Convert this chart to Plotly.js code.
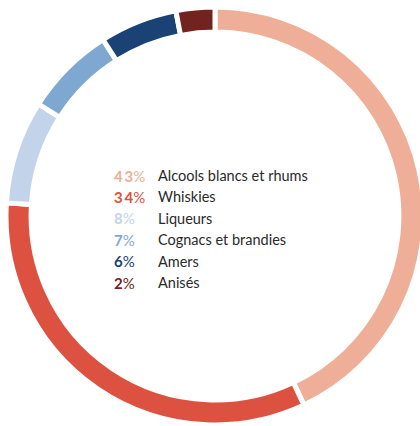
<!DOCTYPE html>
<html><head><meta charset="utf-8">
<script src="https://cdn.plot.ly/plotly-3.0.1.min.js"></script>
<style>html,body{margin:0;padding:0;overflow:hidden;background:#fff;width:420px;height:426px}</style>
</head><body><div id="chart"></div>
<script>
// legend labels and printed percentages
const categories = ["Alcools blancs et rhums","Whiskies","Liqueurs","Cognacs et brandies","Amers","Anisés"];
const shares = [43,34,8,7,6,2];
// arc sizes as drawn in the picture (measured off the ring)
const arcValues = [43,33,8,7,6,3];
const colors = ["#eeae97","#dc5140","#c3d4ea","#7ea8d1","#1b4274","#722320"];

const W = 424, H = 426, L = 6, R = 0, T = 7, B = 1;
const pw = W - L - R, ph = H - T - B;
const px = x => (x - L) / pw;
const py = y => 1 - (y - T) / ph;

const annotations = [];
categories.forEach((c, i) => {
  const y = 175.5 + i * 21.4;
  annotations.push({xref:'paper',yref:'paper',x:px(112),y:py(y),xanchor:'left',yanchor:'middle',
    showarrow:false,text:'<b>'+shares[i].toString().split('').join('\u2009')+'</b>%',font:{family:'Lato',size:15,color:colors[i]}});
  annotations.push({xref:'paper',yref:'paper',x:px(156),y:py(y),xanchor:'left',yanchor:'middle',
    showarrow:false,text:c,font:{family:'Lato',size:14.5,color:'#2a2a2a'}});
});

Plotly.newPlot('chart',[{
  type:'pie',values:arcValues,labels:categories,sort:false,direction:'clockwise',rotation:0,
  hole:0.88,marker:{colors:colors,line:{color:'#ffffff',width:5}},
  textinfo:'none',hoverinfo:'none',domain:{x:[0,1],y:[0,1]}
}],{
  width:W,height:H,margin:{l:L,r:R,t:T,b:B},showlegend:false,
  paper_bgcolor:'#ffffff',plot_bgcolor:'#ffffff',annotations:annotations
},{staticPlot:true});
</script></body></html>
